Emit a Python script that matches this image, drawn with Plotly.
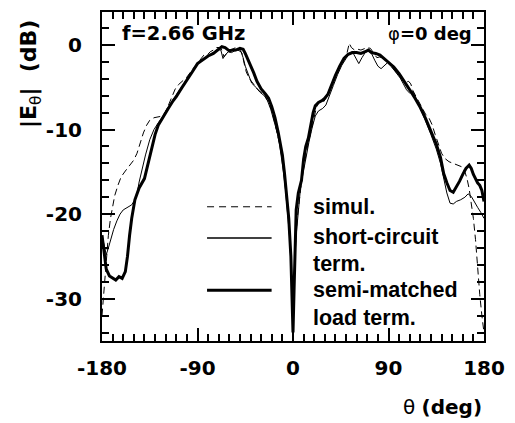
import plotly.graph_objects as go

# ---- data ----
theta_simul = [-180,-179,-178,-176,-174,-172,-170,-168,-165,-162,-158,-154,-150,-147,-144,-141,-138,-135,-131,-127,-123,-120,-117,-114,-111,-108,-104,-100,-96,-92,-88,-84,-81,-78,-75,-72,-69,-67,-65,-63,-60,-57,-54,-51,-48,-46,-44,-41,-37,-33,-29,-26,-23,-20,-17,-14,-12,-10,-8,-6,-4,-2,-1,0,1,2,4,6,8,10,12,14,17,20,22,24,26,29,32,35,39,43,47,51,53,55,58,61,64,67,70,73,76,79,82,85,88,91,95,99,103,106,109,111,113,117,121,125,128,131,134,137,140,143,147,151,155,159,162,164,166,168,170,172,174,176,178,180]
db_simul = [-32,-30.5,-28,-25,-22.5,-20.5,-19,-17.8,-16.6,-15.6,-14.9,-14.3,-13.6,-12.8,-11.6,-10.4,-9.5,-8.9,-8.6,-8.5,-8.4,-7.9,-7.0,-6.1,-5.2,-4.7,-4.3,-3.8,-3.1,-2.5,-1.9,-1.2,-1.2,-0.8,-0.6,-0.3,-0.3,-0.6,-1.4,-1.1,-0.6,-0.5,-0.3,-0.4,-1.0,-2.2,-3.2,-4.0,-4.7,-5.3,-5.7,-6.1,-6.8,-7.8,-9.3,-10.8,-12,-13.5,-15.5,-18,-21,-25.5,-29.5,-33,-29,-24,-20.5,-18,-16.2,-14.5,-13,-11.8,-10.2,-8.6,-7.4,-6.8,-6.5,-6.7,-6.1,-5.0,-3.8,-2.7,-1.8,-0.9,0.2,-0.3,-0.6,-0.5,-0.6,-0.4,-0.3,-0.4,-0.9,-1.5,-1.4,-1.7,-1.8,-2.3,-2.9,-3.5,-4.0,-4.4,-4.3,-4.6,-5.4,-6.3,-7.3,-8.2,-8.6,-9.4,-10.6,-11.8,-12.8,-13.4,-13.8,-14.0,-14.2,-14.4,-15,-15.8,-17,-18.5,-20.5,-23,-26.5,-29.5,-32,-34]

theta_short = [-180,-178,-176,-174,-172,-169,-166,-163,-160,-156,-152,-149,-147,-145,-142,-139,-135,-131,-127,-123,-118,-113,-108,-103,-98,-93,-88,-83,-78,-74,-71,-68,-66,-64,-61,-58,-55,-52,-49,-47,-45,-42,-39,-35,-31,-27,-24,-21,-18,-15,-13,-11,-9,-7,-5,-3,-1.5,-0.5,0.5,1.5,3,5,7,9,11,13,15,18,21,24,28,31,34,38,42,46,50,53,56,59,62,65,68,71,74,77,80,83,86,89,93,97,101,104,107,110,113,116,120,125,130,135,139,142,145,148,151,154,158,162,165,168,171,174,177,180]
db_short = [-22.5,-23.5,-24.8,-24,-23,-21.8,-20.8,-20,-19.5,-19.2,-18.9,-18.3,-17.6,-16.2,-14.5,-13,-11.2,-10,-9.2,-8.5,-7.4,-6.5,-5.5,-4.6,-3.6,-2.8,-2.0,-1.6,-1.2,-0.8,-0.5,-0.6,-1.6,-1.2,-0.8,-0.9,-0.7,-0.6,-0.8,-1.5,-2.5,-3.5,-4.5,-5.0,-5.6,-6.0,-6.6,-7.6,-8.9,-10.3,-11.5,-13,-15,-17.2,-19.8,-23,-27,-32,-31,-26,-22.5,-19.5,-17,-15.5,-14,-12.5,-11.5,-9.8,-8.4,-7.8,-7.5,-7.1,-6.2,-4.8,-3.5,-2.4,-1.6,-1.0,-0.8,-1.6,-2.2,-1.5,-0.9,-0.7,-1.0,-1.8,-2.5,-2.8,-2.4,-2.1,-2.6,-3.2,-3.9,-4.6,-5.3,-5.7,-5.5,-6.3,-7.6,-9.0,-10.6,-12.3,-14.0,-15.8,-17.5,-18.7,-18.8,-18.5,-18.3,-18.0,-17.6,-17.9,-18.6,-19.2,-19.8,-20.5]

theta_semi = [-180,-178,-176,-173,-170,-167,-164,-161,-158,-156,-154,-152,-149,-145,-140,-135,-130,-127,-123,-118,-113,-110,-105,-100,-95,-90,-85,-80,-75,-70,-67,-64,-60,-57,-54,-50,-47,-45,-42,-40,-37,-34,-30,-26,-23,-20,-17,-14,-12,-10,-8,-6,-4,-2,-1,0,1,2,3,5,8,10,12,14.5,17,19,21,24,27,30,33,36,40,44,48,52,56,60,64,68,71,74,78,82,86,90,95,100,105,110,115,120,125,130,135,139,142,145,148,151,154,157,160,163,166,168,170,172,174,176,178,180]
db_semi = [-22.5,-24.5,-26.5,-27.3,-27.6,-27.8,-27.4,-27.6,-26.8,-25,-22.5,-20.5,-18.3,-16.9,-15.8,-13,-10.6,-9.5,-8.6,-7.6,-6.6,-6.1,-5.1,-4.2,-3.2,-2.2,-1.7,-1.3,-1.0,-0.5,-0.2,-0.3,-0.7,-0.6,-0.6,-0.4,-0.5,-1.0,-1.8,-2.4,-3.3,-4.3,-5.2,-5.8,-6.3,-7.3,-8.6,-10.3,-11.5,-13,-15.2,-17.8,-20.5,-25,-29,-34,-29,-22,-19.5,-17.5,-16,-13.5,-12,-11,-9.3,-8,-7.2,-6.8,-6.6,-6.3,-5.8,-4.8,-3.6,-2.5,-1.6,-1.1,-0.9,-0.9,-1.0,-0.8,-0.6,-0.9,-1.0,-1.2,-1.6,-2.0,-2.6,-3.4,-4.3,-5.3,-6.3,-7.4,-8.7,-10.1,-11.7,-13.3,-15.2,-16.3,-17.2,-17.4,-16.8,-16.1,-15.3,-14.6,-14.2,-14.6,-15.3,-15.8,-16.3,-16.6,-17.2,-18.5]

x_tickvals = [-180, -90, 0, 90, 180]
x_ticktext = ["-180", "-90", "0", "90", "180"]
y_tickvals = [0, -10, -20, -30]
y_ticktext = ["0", "-10", "-20", "-30"]

FONT = "Liberation Sans, Arial, sans-serif"
WIDE = "DejaVu Sans, Liberation Sans, sans-serif"

fig = go.Figure()
fig.add_trace(go.Scatter(x=theta_simul, y=db_simul, mode="lines", name="simul.",
                         line=dict(color="black", width=1, dash="7px,4px")))
fig.add_trace(go.Scatter(x=theta_short, y=db_short, mode="lines", name="short-circuit term.",
                         line=dict(color="black", width=1)))
fig.add_trace(go.Scatter(x=theta_semi, y=db_semi, mode="lines", name="semi-matched load term.",
                         line=dict(color="black", width=3)))

axis_common = dict(
    showline=True, linecolor="black", linewidth=2, mirror="ticks",
    ticks="inside", ticklen=13, tickwidth=2, tickcolor="black",
    showgrid=False, zeroline=False,
    tickfont=dict(family=WIDE, size=20, color="black", weight="bold"),
)

fig.update_xaxes(range=[-180, 180], tickmode="array", tickvals=x_tickvals, ticktext=x_ticktext,
                 minor=dict(ticks="inside", ticklen=7, tickwidth=2, tickcolor="black",
                            tickmode="linear", tick0=0, dtick=10, showgrid=False),
                 ticklabelstandoff=8, **axis_common)
fig.update_yaxes(range=[-35, 3.9], tickmode="array", tickvals=y_tickvals, ticktext=y_ticktext,
                 minor=dict(ticks="inside", ticklen=7, tickwidth=2, tickcolor="black",
                            tickmode="linear", tick0=0, dtick=2, showgrid=False),
                 ticklabelstandoff=14, **axis_common)

# legend drawn manually (lines + labels)
leg_x0, leg_x1, txt_x = 0.275, 0.444, 0.548
leg_rows = [(0.408, dict(color="black", width=1, dash="7px,5px")),
            (0.313, dict(color="black", width=1.5)),
            (0.154, dict(color="black", width=3))]
for yp, ln in leg_rows:
    fig.add_shape(type="line", xref="paper", yref="paper", x0=leg_x0, x1=leg_x1, y0=yp, y1=yp, line=ln)

leg_text = [("simul.", 0.408), ("short-circuit", 0.317), ("term.", 0.235),
            ("semi-matched", 0.154), ("load term.", 0.069)]
for t, yp in leg_text:
    fig.add_annotation(text=t, xref="paper", yref="paper", x=txt_x, y=yp, xanchor="left", yanchor="middle",
                       showarrow=False, font=dict(family=FONT, size=21.5, color="black", weight="bold"))

fig.add_annotation(text="f=2.66 GHz", xref="paper", yref="paper", x=0.047, y=0.934,
                   xanchor="left", yanchor="middle", showarrow=False,
                   font=dict(family=WIDE, size=19.5, color="black", weight="bold"))
fig.add_annotation(text="φ<b>=0 deg</b>", xref="paper", yref="paper", x=0.975, y=0.934,
                   xanchor="right", yanchor="middle", showarrow=False,
                   font=dict(family=WIDE, size=18, color="black"))
fig.add_annotation(text="θ <b>(deg)</b>", xref="paper", yref="paper", x=0.891, y=-0.202,
                   xanchor="center", yanchor="middle", showarrow=False,
                   font=dict(family=WIDE, size=20, color="black"))
fig.add_annotation(text="<b>|E</b><sub>θ</sub><b>|  (dB)</b>", xref="paper", yref="paper", x=-0.187, y=0.81,
                   xanchor="center", yanchor="middle", showarrow=False, textangle=-90,
                   font=dict(family=WIDE, size=22, color="black"))

fig.update_layout(
    width=515, height=423,
    margin=dict(l=102, r=28, t=10, b=82),
    paper_bgcolor="white", plot_bgcolor="white",
    showlegend=False,
)

fig.write_html("out.html", config={"displayModeBar": False},
               post_script="document.body.style.margin='0';document.body.style.overflow='hidden';")
